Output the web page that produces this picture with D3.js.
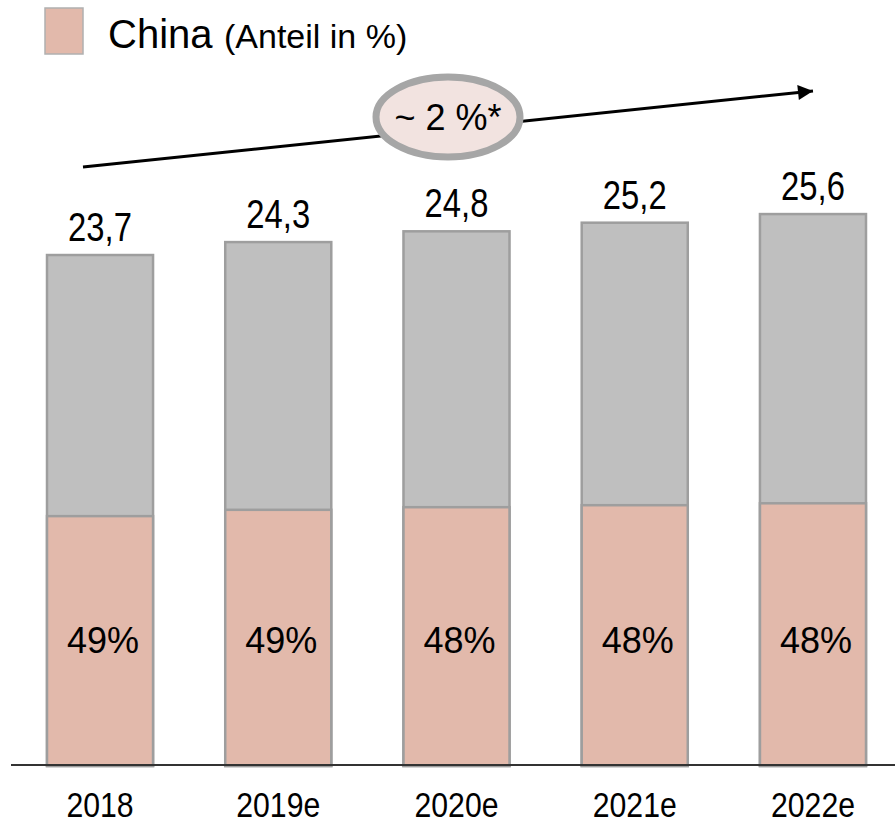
<!DOCTYPE html>
<html>
<head>
<meta charset="utf-8">
<script src="https://cdn.jsdelivr.net/npm/d3@7"></script>
<style>
  body { margin: 0; background: #fff; }
  svg { display: block; font-family: "Liberation Sans", Arial, sans-serif; }
</style>
</head>
<body>
<svg width="895" height="824"></svg>
<script>
// data
const years = ["2018", "2019e", "2020e", "2021e", "2022e"]
const totals = [23.7, 24.3, 24.8, 25.2, 25.6]
const chinaShare = [48.9, 48.9, 48.4, 48.0, 47.6]
const growthLabel = "~ 2 %*"

const svg = d3.select("svg")

const baseY = 766

const x = d3.scaleBand()
  .domain(years)
  .range([47, 866])
  .paddingInner(0.405)
  .paddingOuter(0)

const y = d3.scaleLinear()
  .domain([0, 30])
  .range([baseY, baseY - 30 * 21.56])

const rows = years.map((yr, i) => {
  return { year: yr, total: totals[i], share: chinaShare[i], china: totals[i] * chinaShare[i] / 100 }
})

const fmtTotal = d => d3.format(".1f")(d).replace(".", ",")
const fmtShare = d => d3.format(".0f")(d) + "%"

// legend
svg.append("rect").attr("x", 45).attr("y", 8).attr("width", 38).attr("height", 46)
  .attr("fill", "#e2b9ab").attr("stroke", "#b0b0b0").attr("stroke-width", 1.5)
svg.append("text").attr("x", 108).attr("y", 48).attr("font-size", 40).text("China")
svg.append("text").attr("x", 224).attr("y", 48).attr("font-size", 34).text("(Anteil in %)")

// growth arrow
svg.append("defs").append("marker")
  .attr("id", "head").attr("viewBox", "0 0 10 10")
  .attr("refX", 10).attr("refY", 5)
  .attr("markerWidth", 16).attr("markerHeight", 15)
  .attr("markerUnits", "userSpaceOnUse")
  .attr("orient", "auto")
  .append("path").attr("d", "M0,0 L10,5 L0,10 Z").attr("fill", "#000")

svg.append("line")
  .attr("x1", 83).attr("y1", 167).attr("x2", 813).attr("y2", 91)
  .attr("stroke", "#000").attr("stroke-width", 3)
  .attr("marker-end", "url(#head)")

svg.append("ellipse").attr("cx", 448).attr("cy", 117).attr("rx", 72).attr("ry", 40)
  .attr("fill", "#f2e3e0").attr("stroke", "#a6a6a6").attr("stroke-width", 7)
svg.append("text").attr("x", 448).attr("y", 130).attr("text-anchor", "middle")
  .attr("font-size", 36).text(growthLabel)

// bars
const bars = svg.append("g").selectAll("g").data(rows).join("g")

bars.append("rect")
  .attr("x", d => x(d.year))
  .attr("y", d => y(d.total))
  .attr("width", x.bandwidth())
  .attr("height", d => y(0) - y(d.total))
  .attr("fill", "#bfbfbf")
  .attr("stroke", "#9e9e9e").attr("stroke-width", 2.5)

bars.append("rect")
  .attr("x", d => x(d.year))
  .attr("y", d => y(d.china))
  .attr("width", x.bandwidth())
  .attr("height", d => y(0) - y(d.china))
  .attr("fill", "#e2b9ab")
  .attr("stroke", "#9e9e9e").attr("stroke-width", 2.5)

// totals above bars (narrow face)
bars.append("text")
  .attr("transform", d => `translate(${x(d.year) + x.bandwidth() / 2},${y(d.total) - 14}) scale(0.82,1)`)
  .attr("text-anchor", "middle")
  .attr("font-size", 40)
  .text(d => fmtTotal(d.total))

// share inside pink part
bars.append("text")
  .attr("x", d => x(d.year) + x.bandwidth() / 2 + 3)
  .attr("y", 653)
  .attr("text-anchor", "middle")
  .attr("font-size", 36)
  .text(d => fmtShare(d.share))

// x axis
const axis = svg.append("g")
  .attr("transform", `translate(0,${baseY - 1})`)
  .call(d3.axisBottom(x).tickSize(0))

axis.select(".domain").remove()
axis.append("line").attr("x1", 11).attr("x2", 895).attr("y1", 0).attr("y2", 0)
  .attr("stroke", "#333").attr("stroke-width", 2)

axis.selectAll(".tick text")
  .attr("y", 0).attr("dy", 0)
  .attr("transform", "translate(0,52) scale(0.84,1)")
  .attr("font-size", 36)
  .attr("font-family", "Liberation Sans, Arial, sans-serif")
  .attr("fill", "#000")
</script>
</body>
</html>
